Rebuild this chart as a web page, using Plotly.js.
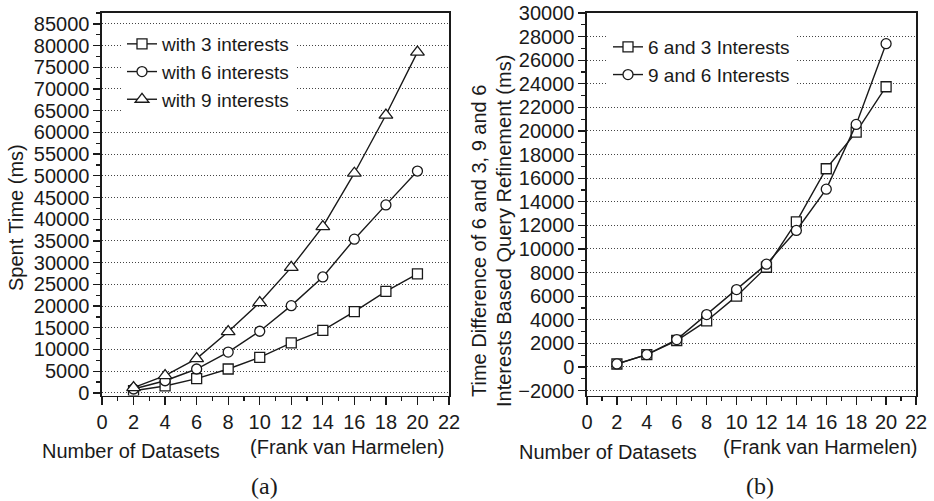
<!DOCTYPE html>
<html>
<head>
<meta charset="utf-8">
<script src="https://cdn.plot.ly/plotly-3.0.1.min.js"></script>
<style>html,body{margin:0;padding:0;background:#fff}#chart{width:934px;height:501px}</style>
</head>
<body>
<div id="chart"></div>
<script>
// ---- data ----
const datasets = [2, 4, 6, 8, 10, 12, 14, 16, 18, 20];
const with3Interests = [500, 1600, 3300, 5500, 8200, 11500, 14400, 18700, 23400, 27400];
const with6Interests = [900, 2800, 5500, 9400, 14200, 20100, 26700, 35400, 43300, 51100];
const with9Interests = [1200, 4000, 7900, 14100, 20800, 28900, 38300, 50600, 64000, 78500];
const diff6and3 = [250, 1050, 2240, 3900, 6000, 8450, 12300, 16800, 19900, 23750];
const diff9and6 = [260, 1050, 2320, 4440, 6560, 8710, 11570, 15070, 20560, 27400];
const legendNames = ["with 3 interests", "with 6 interests", "with 9 interests", "6 and 3 Interests", "9 and 6 Interests"];

const FONT = "Arial, 'Liberation Sans', Arimo, sans-serif";
const INK = "#1a1a1a";

function tr(y, name, sym, xa, ya, leg) {
  return {
    x: datasets, y: y, name: name, type: "scatter", mode: "lines+markers",
    xaxis: xa, yaxis: ya, legend: leg,
    line: {color: INK, width: 1.4},
    marker: {symbol: sym, size: sym === "triangle-up" ? 12 : 10, color: "#fff", line: {color: INK, width: 1.3}}
  };
}

const traces = [
  tr(with3Interests, legendNames[0], "square", "x", "y", "legend"),
  tr(with6Interests, legendNames[1], "circle", "x", "y", "legend"),
  tr(with9Interests, legendNames[2], "triangle-up", "x", "y", "legend"),
  tr(diff6and3, legendNames[3], "square", "x2", "y2", "legend2"),
  tr(diff9and6, legendNames[4], "circle", "x2", "y2", "legend2")
];

const W = 934, H = 501;
const dxA = [102 / W, 449 / W];
const dxB = [587 / W, 916 / W];
const dy = [1 - 395.5 / H, 1 - 13 / H];

function xax(domain, anchor) {
  return {
    domain: domain, anchor: anchor, range: [0, 22], tick0: 0, dtick: 2,
    ticks: "outside", ticklen: 8, tickwidth: 1.3, tickcolor: INK,
    minor: {dtick: 1, ticklen: 4, tickwidth: 1.2, ticks: "outside", tickcolor: INK},
    showline: true, linewidth: 1.6, linecolor: INK, mirror: true,
    showgrid: false, zeroline: false, automargin: false, tickformat: "d",
    tickfont: {family: FONT, size: 20, color: INK}
  };
}
function yax(domain, anchor, range, dtick) {
  return {
    domain: domain, anchor: anchor, range: range, tick0: 0, dtick: dtick,
    ticks: "outside", ticklen: 7, tickwidth: 1.3, tickcolor: INK,
    minor: {dtick: dtick / 2, ticklen: 4, tickwidth: 1.2, ticks: "outside", tickcolor: INK},
    showline: true, linewidth: 1.6, linecolor: INK, mirror: true,
    showgrid: true, gridcolor: "#444", gridwidth: 1, griddash: "1px,2px",
    zeroline: false, automargin: false, tickformat: "d",
    tickfont: {family: FONT, size: 20, color: INK}
  };
}
function xin(over, anchor) {
  return {
    overlaying: over, anchor: anchor, side: "top", range: [0, 22], tick0: 0, dtick: 2,
    ticks: "inside", ticklen: 6, tickwidth: 1.2, tickcolor: INK,
    minor: {dtick: 1, ticklen: 3, ticks: "inside", tickcolor: INK},
    showticklabels: false, showgrid: false, zeroline: false, showline: false, automargin: false
  };
}
function yin(over, anchor, range, dtick) {
  return {
    overlaying: over, anchor: anchor, side: "right", range: range, tick0: 0, dtick: dtick,
    ticks: "inside", ticklen: 6, tickwidth: 1.2, tickcolor: INK,
    minor: {dtick: dtick / 2, ticklen: 3, ticks: "inside", tickcolor: INK},
    showticklabels: false, showgrid: false, zeroline: false, showline: false, automargin: false
  };
}

const rangeA = [-600, 87500];
const rangeB = [-2420, 30000];

function ann(text, x, y, opts) {
  return Object.assign({
    text: text, x: x / W, y: 1 - y / H, xref: "paper", yref: "paper",
    showarrow: false, xanchor: "center", yanchor: "middle",
    font: {family: FONT, size: 20, color: INK}
  }, opts || {});
}

const legendFont = {family: FONT, size: 19, color: INK};

const layout = {
  width: W, height: H,
  margin: {l: 0, r: 0, t: 0, b: 0},
  paper_bgcolor: "#fff", plot_bgcolor: "#fff",
  showlegend: true,
  xaxis: xax(dxA, "y"),
  yaxis: yax(dy, "x", rangeA, 5000),
  xaxis2: xax(dxB, "y2"),
  yaxis2: yax(dy, "x2", rangeB, 2000),
  xaxis3: xin("x", "y"),
  yaxis3: yin("y", "x", rangeA, 5000),
  xaxis4: xin("x2", "y2"),
  yaxis4: yin("y2", "x2", rangeB, 2000),
  legend: {
    x: 122 / W, y: 1 - 25 / H, xanchor: "left", yanchor: "top",
    bgcolor: "#fff", borderwidth: 0,
    font: legendFont, tracegroupgap: 0, itemwidth: 30
  },
  legend2: {
    x: 608 / W, y: 1 - 28 / H, xanchor: "left", yanchor: "top",
    bgcolor: "#fff", borderwidth: 0,
    font: legendFont, tracegroupgap: 0, itemwidth: 30
  },
  annotations: [
    ann("Spent Time (ms)", 16, 218, {textangle: -90}),
    ann("Time Difference of 6 and 3, 9 and 6", 479, 241, {textangle: -90}),
    ann("Interests Based Query Refinement (ms)", 504, 231, {textangle: -90}),
    ann("Number of Datasets", 131, 451),
    ann("(Frank van Harmelen)", 347, 447),
    ann("Number of Datasets", 608, 452),
    ann("(Frank van Harmelen)", 820, 447),
    ann("(a)", 264, 486, {font: {family: "'Times New Roman', 'Liberation Serif', serif", size: 24, color: INK}}),
    ann("(b)", 760, 486, {font: {family: "'Times New Roman', 'Liberation Serif', serif", size: 24, color: INK}})
  ]
};

Plotly.newPlot("chart", traces, layout, {displayModeBar: false, staticPlot: true});
</script>
</body>
</html>
